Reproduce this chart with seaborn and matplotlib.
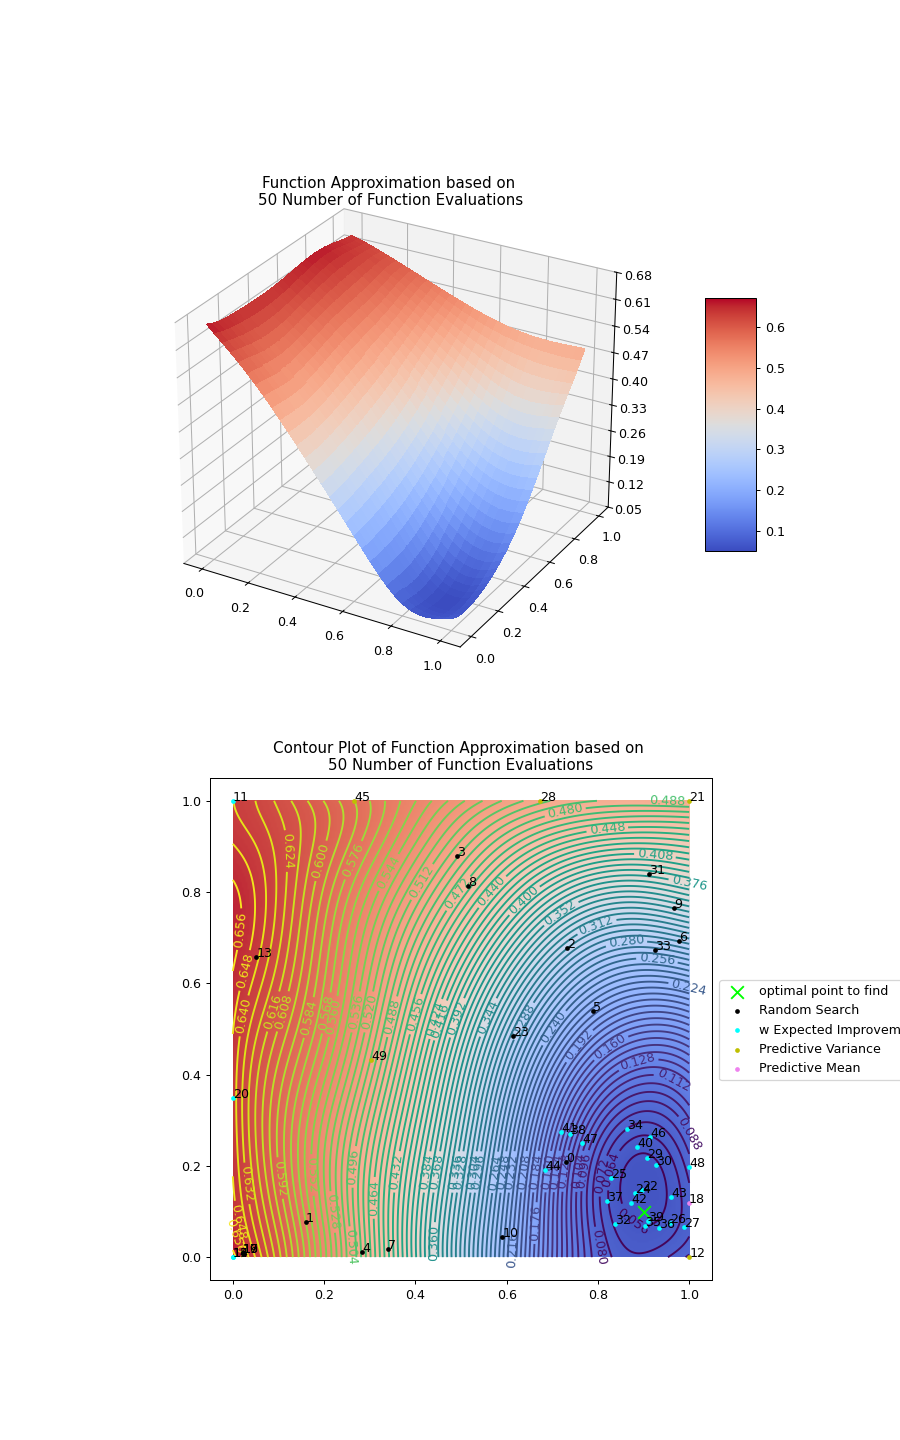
import numpy as np
import pandas as pd
import matplotlib
matplotlib.use("Agg")
import matplotlib.pyplot as plt
import seaborn as sns

# Approximated function sampled on a coarse lattice (rows follow y, columns follow x)
grid_x = [0.0, 0.1, 0.2, 0.3, 0.4, 0.5, 0.6, 0.7, 0.8, 0.9, 1.0]
grid_y = [0.0, 0.1, 0.2, 0.3, 0.4, 0.5, 0.6, 0.7, 0.8, 0.9, 1.0]
row_y00 = [.668, .612, .545, .475, .393, .310, .225, .145, .082, .066, .082]
row_y01 = [.651, .600, .540, .471, .398, .318, .232, .148, .071, .052, .068]
row_y02 = [.649, .591, .538, .470, .401, .325, .240, .155, .078, .058, .077]
row_y03 = [.645, .590, .542, .483, .420, .340, .260, .175, .098, .072, .095]
row_y04 = [.644, .598, .553, .500, .438, .358, .280, .205, .140, .112, .125]
row_y05 = [.648, .610, .565, .515, .455, .375, .300, .240, .190, .165, .172]
row_y06 = [.655, .620, .574, .524, .470, .400, .345, .285, .240, .222, .232]
row_y07 = [.660, .625, .582, .535, .490, .437, .385, .330, .295, .285, .295]
row_y08 = [.656, .630, .594, .553, .515, .470, .425, .380, .355, .352, .365]
row_y09 = [.650, .628, .600, .568, .530, .500, .470, .440, .425, .420, .425]
row_y10 = [.640, .622, .600, .576, .553, .530, .510, .495, .488, .487, .490]

# Evaluated points, in evaluation order
point_x = [.731, .160, .733, .491, .283, .790, .977, .339, .515, .967,
           .590, .000, 1.000, .051, .000, .000, .022, .022, .999, .022,
           .000, 1.000, .896, .614, .881, .828, .958, .988, .674, .908,
           .927, .912, .838, .925, .863, .904, .933, .821, .738, .909,
           .886, .719, .873, .961, .685, .266, .914, .766, 1.000, .303]
point_y = [.209, .078, .678, .878, .012, .539, .693, .018, .814, .765,
           .045, 1.000, .000, .658, .000, .000, .010, .010, .118, .010,
           .349, 1.000, .147, .484, .141, .174, .074, .067, 1.000, .217,
           .202, .840, .072, .673, .281, .069, .065, .124, .270, .079,
           .241, .275, .118, .131, .190, 1.000, .263, .250, .198, .433]
point_kind = ["Random Search"] * 11 + ["w Expected Improvement", "Predictive Variance",
              "Random Search", "w Expected Improvement", "w Expected Improvement",
              "Random Search", "Random Search", "Predictive Mean", "Random Search",
              "w Expected Improvement", "Predictive Variance", "w Expected Improvement",
              "Random Search", "w Expected Improvement", "w Expected Improvement",
              "w Expected Improvement", "w Expected Improvement", "Predictive Variance",
              "w Expected Improvement", "w Expected Improvement", "Random Search",
              "w Expected Improvement", "Random Search", "w Expected Improvement",
              "w Expected Improvement", "w Expected Improvement", "w Expected Improvement",
              "w Expected Improvement", "w Expected Improvement", "w Expected Improvement",
              "w Expected Improvement", "w Expected Improvement", "w Expected Improvement",
              "w Expected Improvement", "Predictive Variance", "w Expected Improvement",
              "w Expected Improvement", "w Expected Improvement", "Predictive Variance"]
kind_order = ["Random Search", "w Expected Improvement", "Predictive Variance", "Predictive Mean"]
kind_colors = ["black", "cyan", "#bfbf00", "violet"]
optimum_x = [0.9]
optimum_y = [0.1]

# Contour labels: level, and the spot along that level where the label sits
label_level = [.656, .648, .640, .624, .600, .576, .544, .512, .616, .608, .584, .568, .560,
               .536, .520, .488, .456, .424, .416, .632, .592, .552, .528, .504, .496, .464,
               .432, .384, .368, .360, .336, .480, .488, .448, .408, .376, .440, .400, .352,
               .312, .280, .256, .224, .392, .344, .288, .240, .192, .160, .128, .112, .088,
               .072, .064, .056, .080, .216, .176, .472, .328, .304, .296, .264, .248, .232,
               .208, .184, .160, .144, .128, .104, .096, .648, .656]
label_x = [.013, .031, .028, .117, .195, .268, .347, .415, .090, .112, .167, .200, .222,
           .266, .295, .349, .402, .448, .464, .042, .108, .174, .218, .260, .264, .308,
           .360, .424, .446, .442, .486, .727, .952, .820, .925, 1.00, .569, .640, .720,
           .798, .862, .930, .998, .490, .556, .640, .700, .760, .826, .888, .963, 1.00,
           .822, .853, .859, .804, .618, .657, .490, .497, .526, .535, .567, .590, .610,
           .640, .668, .695, .716, .740, .767, .787, .020, .015]
label_y = [.719, .627, .528, .890, .868, .868, .840, .822, .538, .538, .525, .536, .527,
           .538, .538, .527, .532, .521, .516, .163, .174, .180, .099, .022, .198, .130,
           .187, .187, .187, .031, .187, .982, .993, .943, .881, .820, .800, .780, .752,
           .723, .692, .657, .587, .525, .527, .516, .505, .462, .462, .426, .382, .268,
           .176, .185, .060, .022, .015, .075, .800, .187, .187, .187, .187, .187, .187,
           .187, .187, .187, .187, .187, .187, .187, .080, .050]

values = np.array([row_y00, row_y01, row_y02, row_y03, row_y04, row_y05,
                   row_y06, row_y07, row_y08, row_y09, row_y10])
lattice_x, lattice_y = np.meshgrid(grid_x, grid_y)

# Smooth the lattice with a low-order Chebyshev surface plus two bowls at the minimum,
# which keeps the level lines free of kinks while the basin stays round
cheb = np.polynomial.chebyshev
degree = (6, 6)


def design(xs, ys):
    poly = cheb.chebvander2d(2 * xs - 1, 2 * ys - 1, degree)
    bowls = [np.sqrt(1 + ((xs - optimum_x[0]) / wx) ** 2 + ((ys - optimum_y[0]) / wy) ** 2)
             for wx, wy in [(0.08, 0.12), (0.25, 0.35)]]
    return np.column_stack([poly] + bowls)


coefficients = np.linalg.lstsq(design(lattice_x.ravel(), lattice_y.ravel()), values.ravel(), rcond=None)[0]


def evaluate(count):
    xs, ys = np.meshgrid(np.linspace(0.0, 1.0, count), np.linspace(0.0, 1.0, count))
    return xs, ys, (design(xs.ravel(), ys.ravel()) @ coefficients).reshape(xs.shape)


fig = plt.figure(figsize=(900 / 91, 1440 / 91), dpi=91)
coolwarm = sns.color_palette("coolwarm", as_cmap=True)
viridis = sns.color_palette("viridis", as_cmap=True)
z_min, z_max = 0.051, 0.671

# Surface view
ax3d = fig.add_axes([112 / 900, 1 - 706 / 1440, 560 / 900, 560 / 1440], projection="3d")
sx, sy, sz = evaluate(31)
surface = ax3d.plot_surface(sx, sy, sz, rstride=1, cstride=1, cmap=coolwarm,
                            vmin=z_min, vmax=z_max, linewidth=0, antialiased=False)
ax3d.set_xlim(-0.08, 1.08)
ax3d.set_ylim(-0.08, 1.08)
ax3d.set_zlim(0.05, 0.68)
ax3d.set_zticks([.05, .12, .19, .26, .33, .40, .47, .54, .61, .68])
ax3d.set_zticklabels(["0.05", "0.12", "0.19", "0.26", "0.33", "0.40", "0.47", "0.54", "0.61", "0.68"])
ax3d.set_xticks([0, .2, .4, .6, .8, 1.0])
ax3d.set_yticks([0, .2, .4, .6, .8, 1.0])
ax3d.view_init(elev=27.5, azim=-60)
ax3d.set_box_aspect((1, 1, 0.845), zoom=0.905)
fig.text(391 / 900, 1 - 192 / 1440, "Function Approximation based on \n50 Number of Function Evaluations",
         ha="center", va="center", fontsize=12)

colorbar_ax = fig.add_axes([705 / 900, 1 - 551 / 1440, 51 / 900, 253 / 1440])
fig.colorbar(surface, cax=colorbar_ax, ticks=[.1, .2, .3, .4, .5, .6])

# Contour view: every level is drawn on its own so each label lands on its own line
ax = fig.add_axes([210 / 900, 1 - 1280 / 1440, 502 / 900, 502 / 1440])
cx, cy, cz = evaluate(251)
ax.imshow(cz, origin="lower", extent=(0, 1, 0, 1), cmap=coolwarm, vmin=z_min, vmax=z_max,
          alpha=0.95, aspect="auto", interpolation="bilinear")
contour_levels = np.arange(0.056, 0.668, 0.008)
level_colours = viridis(np.linspace(0, 1, len(contour_levels)))
for step, (level, colour) in enumerate(zip(contour_levels, level_colours)):
    line_set = ax.contour(cx, cy, cz, levels=[level], colors=[colour], linewidths=1.5)
    spots = [(lx, ly) for lv, lx, ly in zip(label_level, label_x, label_y) if abs(lv - level) < 1e-4]
    if spots and line_set.allsegs[0]:
        ax.clabel(line_set, fmt="%.3f", fontsize=10, manual=spots, inline=True)

points = pd.DataFrame({"x": point_x, "y": point_y, "kind": point_kind})
sns.scatterplot(x=optimum_x, y=optimum_y, marker="x", s=100, color="lime", linewidth=1.5,
                label="optimal point to find", ax=ax, zorder=5)
for kind, colour in zip(kind_order, kind_colors):
    subset = points[points["kind"] == kind]
    sns.scatterplot(data=subset, x="x", y="y", color=colour, s=14, linewidth=0,
                    label=kind, ax=ax, zorder=4)
for index, (px, py) in enumerate(zip(point_x, point_y)):
    ax.annotate(str(index), (px, py), fontsize=10, color="black", annotation_clip=False, zorder=6)

ax.set_xlim(-0.05, 1.05)
ax.set_ylim(-0.05, 1.05)
ax.set_xticks([0, .2, .4, .6, .8, 1.0])
ax.set_yticks([0, .2, .4, .6, .8, 1.0])
ax.set_xlabel("")
ax.set_ylabel("")
fig.text(461 / 900, 1 - 757 / 1440, "Contour Plot of Function Approximation based on \n50 Number of Function Evaluations",
         ha="center", va="center", fontsize=12)
ax.legend(loc="upper left", bbox_to_anchor=(719 / 900, 1 - 980 / 1440),
          bbox_transform=fig.transFigure, borderaxespad=0, fontsize=10)

fig.savefig("out.png", dpi=91)
